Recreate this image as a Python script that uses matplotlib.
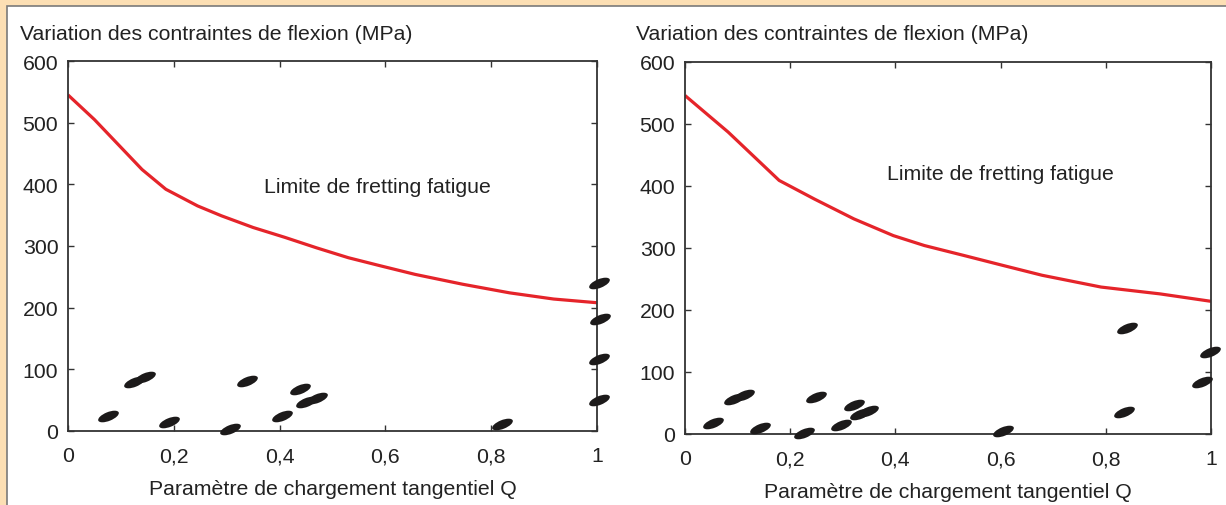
import numpy as np
import matplotlib.pyplot as plt
from matplotlib.path import Path
from matplotlib.transforms import Affine2D
from matplotlib.patches import Rectangle

# données
q_ticks = [0, 0.2, 0.4, 0.6, 0.8, 1]
q_labels = ['0', '0,2', '0,4', '0,6', '0,8', '1']
s_ticks = [0, 100, 200, 300, 400, 500, 600]

# limite de fretting fatigue (gauche)
lim1_q = [0.0, 0.05, 0.11, 0.14, 0.185, 0.245, 0.29, 0.35, 0.41, 0.47, 0.53,
          0.59, 0.656, 0.746, 0.835, 0.918, 1.0]
lim1_s = [545, 505, 451, 424, 392, 365, 349, 330, 314, 297, 281, 268, 254,
          238, 224, 214, 208]
# essais (gauche)
pts1_q = [0.075, 0.125, 0.145, 0.19, 0.306, 0.338, 0.404, 0.439, 0.45, 0.47,
          0.82, 1.003, 1.005, 1.003, 1.003]
pts1_s = [24, 79, 87, 15, 3, 81, 24, 68, 47, 53, 11, 240, 181, 116, 50]

# limite de fretting fatigue (droite)
lim2_q = [0.0, 0.082, 0.179, 0.246, 0.321, 0.396, 0.455, 0.53, 0.604, 0.679,
          0.791, 0.903, 1.0]
lim2_s = [546, 487, 409, 379, 347, 320, 304, 288, 272, 256, 237, 226, 214]
# essais (droite)
pts2_q = [0.054, 0.093, 0.112, 0.142, 0.226, 0.249, 0.296, 0.321, 0.332,
          0.347, 0.604, 0.84, 0.834, 0.998, 0.983]
pts2_s = [17, 56, 63, 10, 2, 59, 15, 47, 32, 37, 5, 171, 35, 132, 84]

plt.rcParams['font.family'] = ['Liberation Sans', 'DejaVu Sans']
fs = 15.3

# marqueur ellipse incliné
circ = Path.unit_circle()
ell = Affine2D().scale(1, 0.4).rotate_deg(22).transform_path(circ)

fig = plt.figure(figsize=(12.26, 5.06), dpi=100)
fig.patch.set_facecolor('#fcdfb4')
fig.patches.append(Rectangle((7 / 1226, -0.02), 1.0, 1 - 7 / 506 + 0.02,
                             transform=fig.transFigure, facecolor='white',
                             edgecolor='#7a7a7a', lw=1.2, zorder=-1))

panels = [
    ([68, 597, 62, 432], lim1_q, lim1_s, pts1_q, pts1_s, (0.585, 397), 20),
    ([685, 1211, 63, 435], lim2_q, lim2_s, pts2_q, pts2_s, (0.6, 420), 636),
]

for box, lq, ls, pq, ps, txt, ylx in panels:
    x0, x1, y0, y1 = box
    ax = fig.add_axes([x0 / 1226, 1 - y1 / 506, (x1 - x0) / 1226, (y1 - y0) / 506])
    ax.patch.set_alpha(0)
    ax.plot(lq, ls, color='#e5242a', lw=2.3, solid_capstyle='butt', zorder=2)
    ax.scatter(pq, ps, marker=ell, s=235, color='#1c1a1a', lw=0,
               clip_on=False, zorder=3)
    ax.set_xlim(0, 1)
    ax.set_ylim(0, 600)
    ax.set_xticks(q_ticks)
    ax.set_xticklabels(q_labels)
    ax.set_yticks(s_ticks)
    ax.tick_params(direction='in', length=4, width=1, color='#333333',
                   top=True, right=True, labelsize=fs, labelcolor='#222222',
                   pad=7)
    ax.tick_params(axis='x', pad=11)
    for sp in ax.spines.values():
        sp.set_color('#333333')
        sp.set_linewidth(1.3)
    ax.text(txt[0], txt[1], 'Limite de fretting fatigue', ha='center',
            va='center', fontsize=fs, color='#222222')
    ax.set_xlabel('Paramètre de chargement tangentiel Q', fontsize=fs,
                  color='#222222', labelpad=10)
    fig.text(ylx / 1226, 1 - 35 / 506, 'Variation des contraintes de flexion (MPa)',
             ha='left', va='center', fontsize=fs, color='#222222')

fig.savefig('out.png', dpi=100)
